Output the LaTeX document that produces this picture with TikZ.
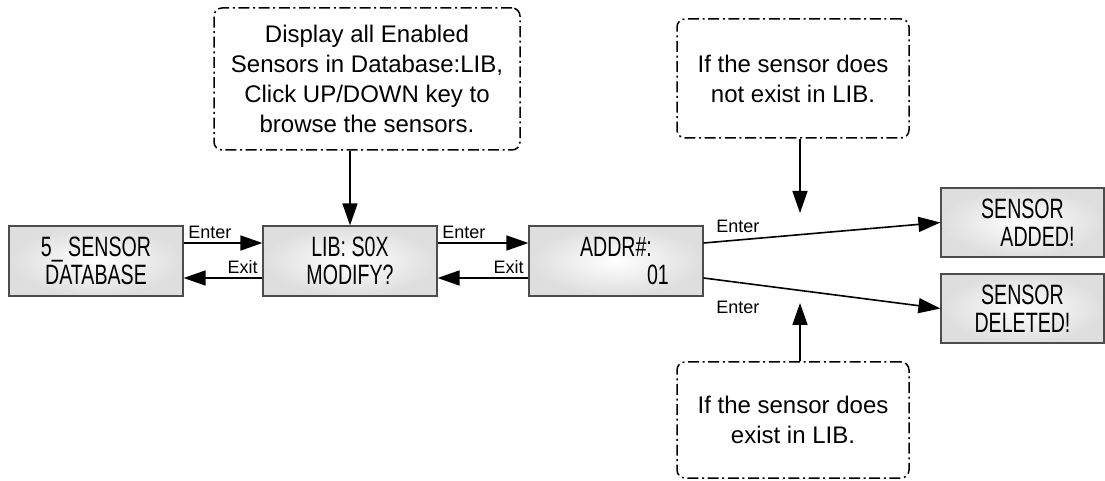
\documentclass[tikz,border=0pt]{standalone}
\usepackage{fontspec}
\setmainfont{Liberation Sans}
\newfontfamily\narrowfont[FakeStretch=0.7]{Liberation Sans}
\usetikzlibrary{arrows.meta}

\begin{document}
\begin{tikzpicture}[x=0.5pt,y=-0.5pt,
    lcd/.style={draw=black!70, line width=0.6pt, shading=radial, inner color=white, outer color=black!13,
      minimum width=87pt, minimum height=35pt, align=center, font=\narrowfont\fontsize{14}{14}\selectfont},
    note/.style={draw, line width=0.75pt, rounded corners=4pt, dash pattern=on 5.5pt off 1.8pt on 1pt off 1.8pt,
      align=center, font=\fontsize{12}{15}\selectfont},
    link/.style={-{Triangle[length=11pt,width=7.5pt]}, line width=0.8pt},
    tag/.style={font=\fontsize{9}{9}\selectfont, inner sep=2pt}]
    \useasboundingbox (0,0) rectangle (1105,481);
     % menu screens
     \node[lcd] (db) at (96,261) {5\_ SENSOR\\DATABASE};
     \node[lcd] (lib) at (350,261) {LIB: S0X\\MODIFY?};
     \node[lcd] (addr) at (616,261) {ADDR\#:\\\hspace*{42pt}01};
     \node[lcd, minimum width=81.5pt, minimum height=34.5pt] (added) at (1022.5,222.5) {SENSOR\\\hspace*{15pt}ADDED!};
     \node[lcd, minimum width=81.5pt, minimum height=34.5pt] (deleted) at (1022.5,308.5) {SENSOR\\DELETED!};
     % notes
     \node[note, minimum width=153pt, minimum height=71pt] (browse) at (367,79) {Display all Enabled\\Sensors in Database:LIB,\\Click UP/DOWN key to\\browse the sensors.};
     \node[note, minimum width=116pt, minimum height=59.5pt] (noexist) at (793,78.5) {If the sensor does\\not exist in LIB.};
     \node[note, minimum width=116pt, minimum height=58pt] (exist) at (793,420) {If the sensor does\\exist in LIB.};
     \coordinate (addtip) at (800,213);
     \coordinate (deltip) at (800,303);
     % moves between screens
     \draw[link] ([yshift=9pt]db.east) -- ([yshift=9pt]lib.west) node[pos=0, above right, tag] {Enter};
     \draw[link] ([yshift=-8.5pt]lib.west) -- ([yshift=-8.5pt]db.east) node[pos=0, above left, tag] {Exit};
     \draw[link] ([yshift=9pt]lib.east) -- ([yshift=9pt]addr.west) node[pos=0, above right, tag] {Enter};
     \draw[link] ([yshift=-8.5pt]addr.west) -- ([yshift=-8.5pt]lib.east) node[pos=0, above left, tag] {Exit};
     \draw[link] ([yshift=9pt]addr.east) -- (added.west) node[pos=0, anchor=south west, tag, xshift=4pt, yshift=3pt] {Enter};
     \draw[link] ([yshift=-8.5pt]addr.east) -- (deleted.west) node[pos=0, anchor=north west, tag, xshift=4pt, yshift=-9pt] {Enter};
     % notes point at the screens
     \draw[link] (browse.south -| lib.north) -- (lib.north);
     \draw[link] (noexist.south -| addtip) -- (addtip);
     \draw[link] (exist.north -| deltip) -- (deltip);
\end{tikzpicture}
\end{document}
